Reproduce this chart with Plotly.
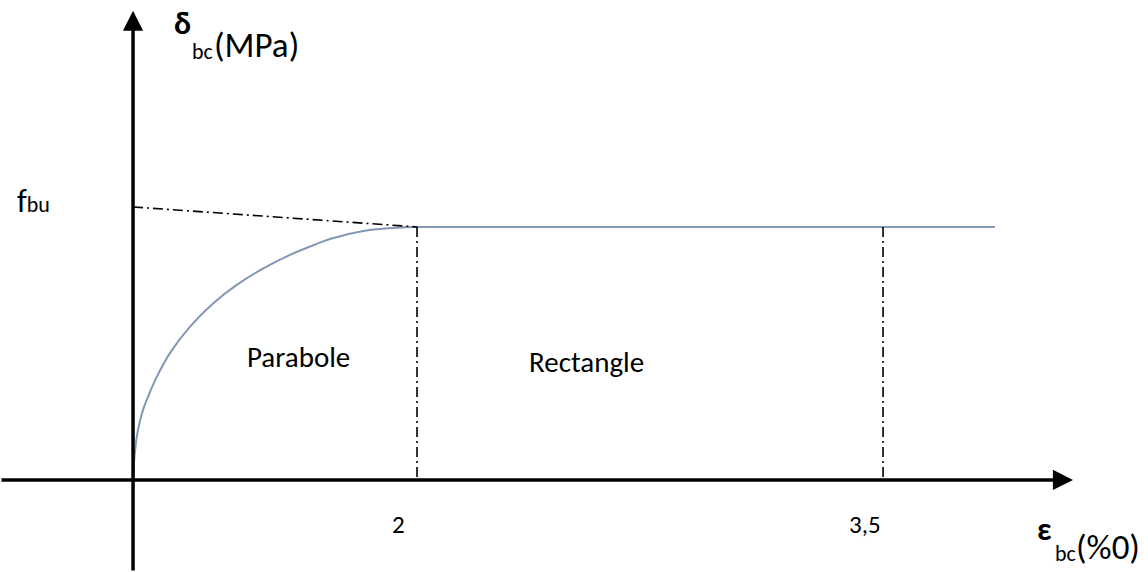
import plotly.graph_objects as go

# ---- schematic coordinates (diagram units: origin at 0, plateau stress = 1) ----
# parabola branch
parab_x = [0.0, 0.0035, 0.0106, 0.0261, 0.0472, 0.0725, 0.1197, 0.1669, 0.2606, 0.4014, 0.5655,
           0.7303, 0.9176, 1.1056, 1.2937, 1.3873, 1.6218, 1.8570, 2.0]
parab_y = [0.0, 0.0395, 0.0949, 0.170, 0.229, 0.2806, 0.3478, 0.4071, 0.5020, 0.6059, 0.6984,
           0.7708, 0.8360, 0.8893, 0.9328, 0.9526, 0.9842, 0.9972, 1.0]
# rectangle (plateau) branch
rect_x = [2.0, 6.07]
rect_y = [1.0, 1.0]
# tangent from f_bu to end of parabola
tangent_x = [0.0, 2.0]
tangent_y = [1.079, 1.0]
# strain marks on the axis
tick_pos = [2.0, 5.282]
tick_labels = ["2", "3,5"]
plateau = 1.0

# axis extents
X_MIN, X_MAX = -0.937, 7.148
Y_MIN, Y_MAX = -0.364, 1.897
x_arrow_tip = 6.62
y_arrow_tip = 1.855

FONT = "Carlito, Lato, sans-serif"
CURVE = "#8497b4"
DASHDOT = "10px,4px,2px,4px"

fig = go.Figure()

fig.add_trace(go.Scatter(x=parab_x, y=parab_y, mode="lines",
                         line=dict(color=CURVE, width=2, shape="spline", smoothing=1.0),
                         hoverinfo="skip", showlegend=False))
fig.add_trace(go.Scatter(x=rect_x, y=rect_y, mode="lines",
                         line=dict(color=CURVE, width=2),
                         hoverinfo="skip", showlegend=False))
fig.add_trace(go.Scatter(x=tangent_x, y=tangent_y, mode="lines",
                         line=dict(color="black", width=1.6, dash=DASHDOT),
                         hoverinfo="skip", showlegend=False))
for xp in tick_pos:
    fig.add_trace(go.Scatter(x=[xp, xp], y=[plateau, 0.008], mode="lines",
                             line=dict(color="black", width=1.6, dash=DASHDOT),
                             hoverinfo="skip", showlegend=False))

annotations = []
# axes with arrowheads
annotations.append(dict(x=x_arrow_tip, y=0, ax=X_MIN, ay=0, xref="x", yref="y", axref="x", ayref="y",
                        text="", showarrow=True, arrowhead=2, arrowsize=1.15, arrowwidth=3.5,
                        arrowcolor="black"))
annotations.append(dict(x=0, y=y_arrow_tip, ax=0, ay=Y_MIN, xref="x", yref="y", axref="x", ayref="y",
                        text="", showarrow=True, arrowhead=2, arrowsize=1.15, arrowwidth=3.5,
                        arrowcolor="black"))

# tick labels
for xp, lab in zip(tick_pos, tick_labels):
    annotations.append(dict(x=xp - 0.13, y=-0.176, xref="x", yref="y", text=lab, showarrow=False,
                            font=dict(family=FONT, size=25, color="black")))


def px(xpix, ypix):
    return (xpix - 133) / 142, (480 - ypix) / 253


def label(xpix, ypix, text, size, xanchor="left", yanchor="middle"):
    x, y = px(xpix, ypix)
    annotations.append(dict(x=x, y=y, xref="x", yref="y", text=text, showarrow=False,
                            xanchor=xanchor, yanchor=yanchor,
                            font=dict(family=FONT, size=size, color="black")))


# y-axis title: δ_bc(MPa)
label(182, 24, "<b>δ</b>", 32, xanchor="center")
label(190, 52, "bc", 22)
label(212, 45, "(MPa)", 35)
# x-axis title: ε_bc(%0)
label(1045, 530, "<b>ε</b>", 32, xanchor="center")
label(1053, 554, "bc", 22)
label(1074, 547, "(%0)", 35)
# f_bu
label(15, 202, "f<span style='font-size:22px'>bu</span>", 32)
# region labels
label(298, 357, "Parabole", 29, xanchor="center")
label(586, 362, "Rectangle", 29, xanchor="center")

fig.update_layout(
    width=1148, height=572,
    margin=dict(l=0, r=0, t=0, b=0),
    paper_bgcolor="white", plot_bgcolor="white",
    xaxis=dict(range=[X_MIN, X_MAX], visible=False, fixedrange=True),
    yaxis=dict(range=[Y_MIN, Y_MAX], visible=False, fixedrange=True),
    annotations=annotations,
    showlegend=False,
)

fig.write_html("out.html", config={"displayModeBar": False},
               post_script="document.body.style.margin='0';")
